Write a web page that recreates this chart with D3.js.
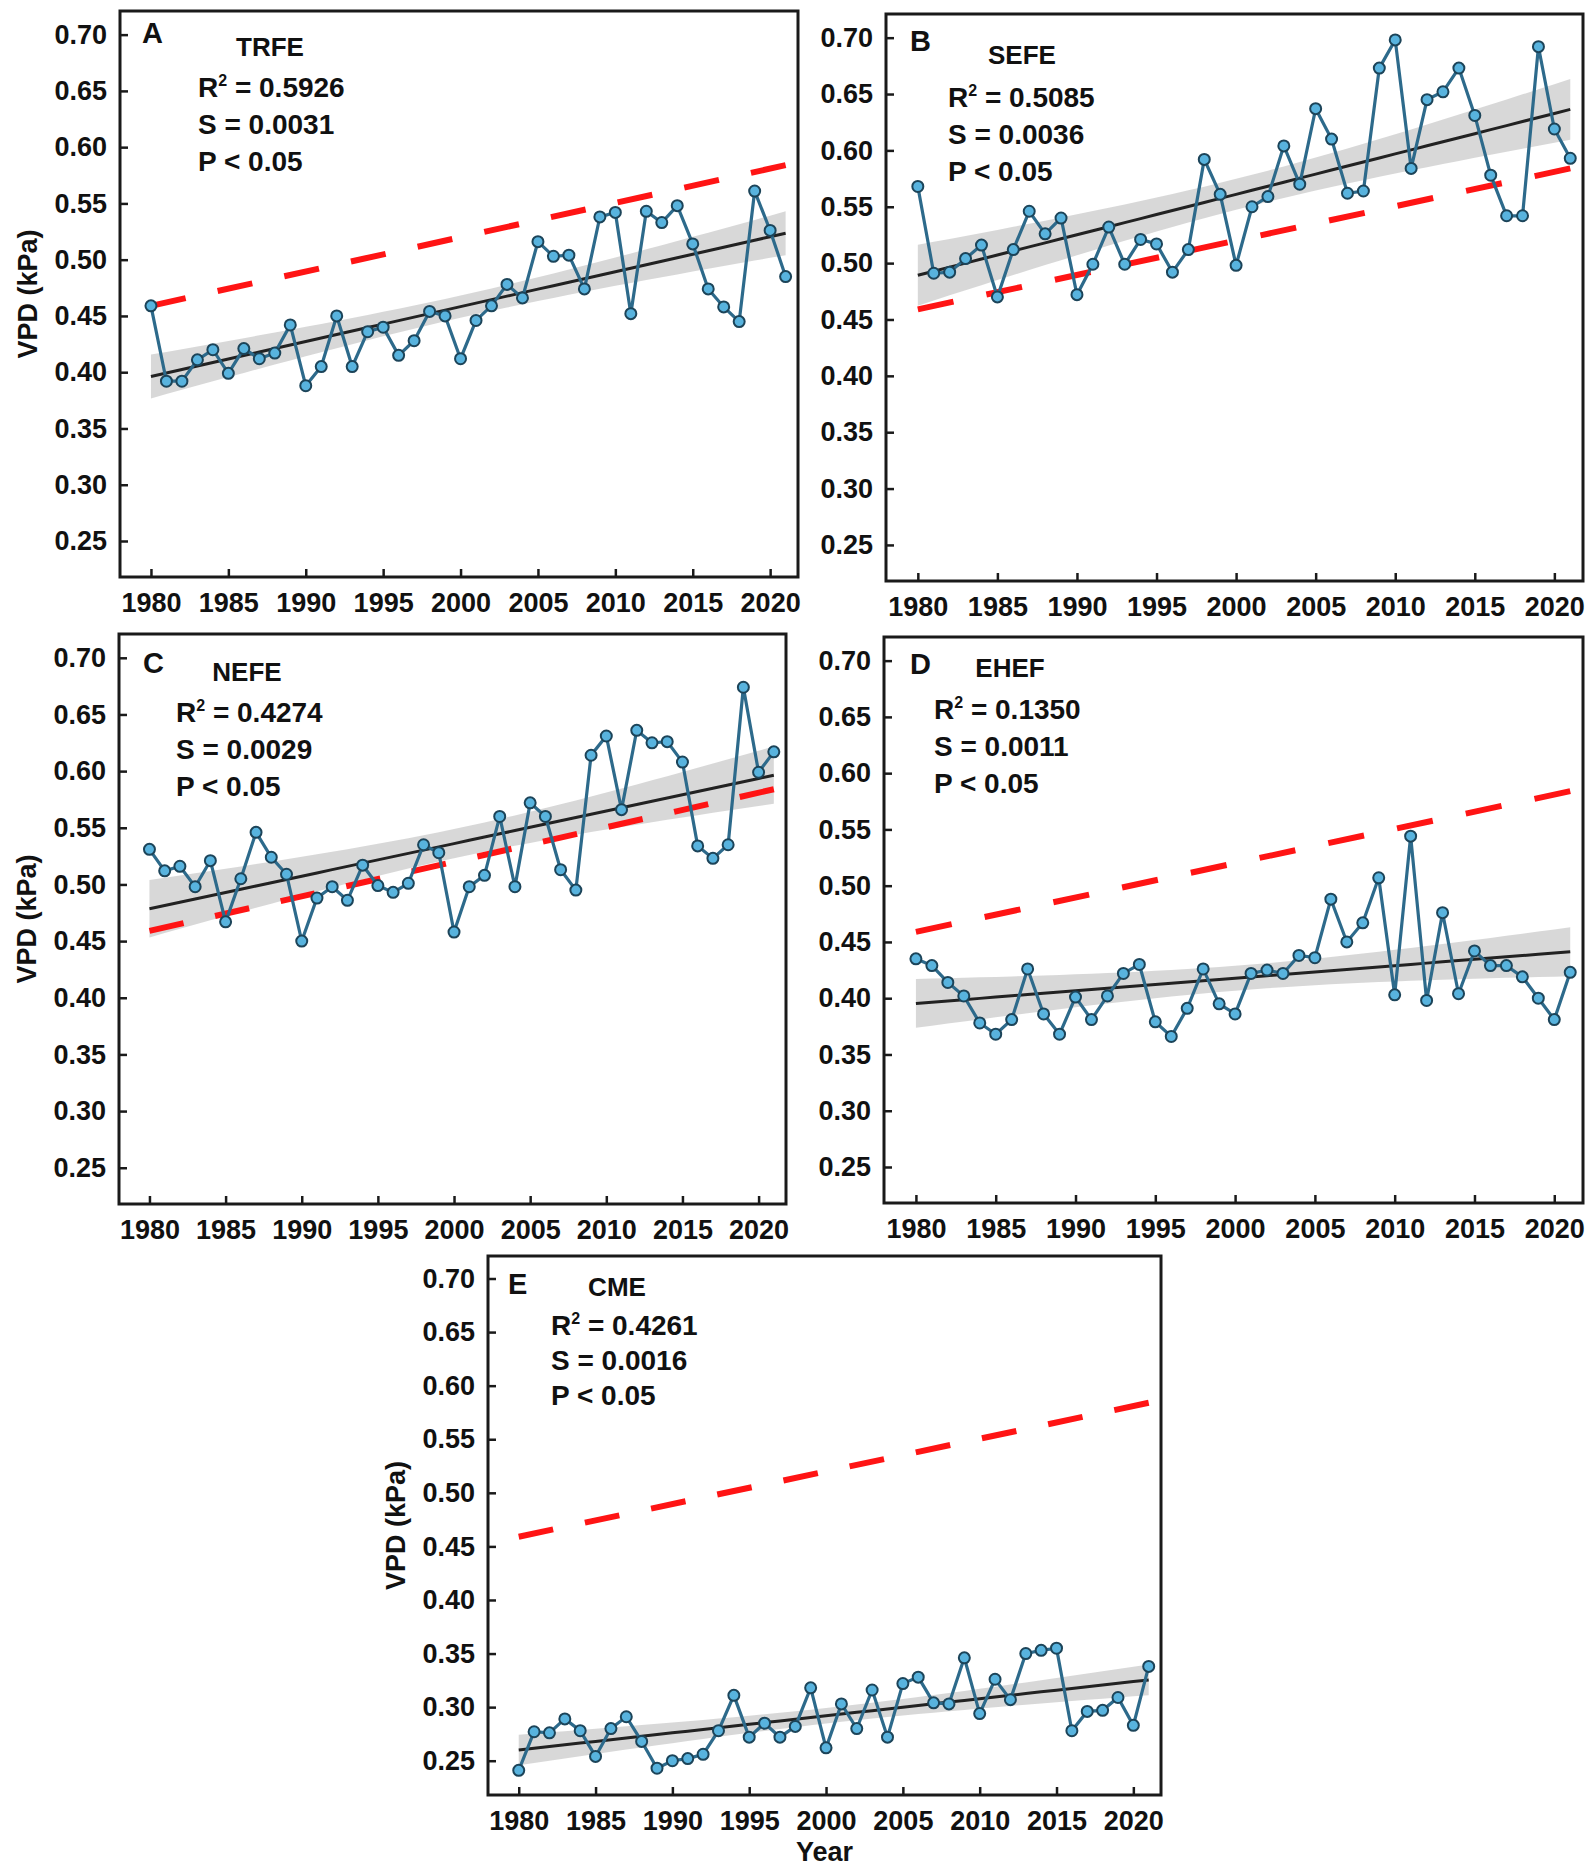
<!DOCTYPE html>
<html>
<head>
<meta charset="utf-8">
<script src="https://cdn.jsdelivr.net/npm/d3@7"></script>
<style>
  body { margin: 0; background: #fff; }
  text { font-family: "Liberation Sans", Arial, sans-serif; font-weight: bold; fill: #111; }
</style>
</head>
<body>
<div id="app"></div>
<script>
// ---- data ----
const years = d3.range(1980, 2022)
const regions = ['TRFE', 'SEFE', 'NEFE', 'EHEF', 'CME']
const letters = ['A', 'B', 'C', 'D', 'E']
const r2Labels = ['0.5926', '0.5085', '0.4274', '0.1350', '0.4261']
const slopeLabels = ['0.0031', '0.0036', '0.0029', '0.0011', '0.0016']
const pLabel = 'P < 0.05'
const yTicks = [0.25, 0.30, 0.35, 0.40, 0.45, 0.50, 0.55, 0.60, 0.65, 0.70]
const xTicks = [1980, 1985, 1990, 1995, 2000, 2005, 2010, 2015, 2020]
// red dashed reference trend, value at 1980 and at 2021
const refYears = [1980, 2021]
const refLine = [0.459, 0.584]

const trfe = [0.459, 0.392, 0.392, 0.411, 0.420, 0.399, 0.421, 0.412, 0.417, 0.442,
  0.388, 0.405, 0.450, 0.405, 0.436, 0.440, 0.415, 0.428, 0.454, 0.450,
  0.412, 0.446, 0.459, 0.478, 0.466, 0.516, 0.503, 0.504, 0.474, 0.538,
  0.542, 0.452, 0.543, 0.533, 0.548, 0.514, 0.474, 0.458, 0.445, 0.561,
  0.526, 0.485]
const sefe = [0.568, 0.491, 0.492, 0.504, 0.516, 0.470, 0.512, 0.546, 0.526, 0.540,
  0.472, 0.499, 0.532, 0.499, 0.521, 0.517, 0.492, 0.512, 0.592, 0.561,
  0.498, 0.550, 0.559, 0.604, 0.570, 0.637, 0.610, 0.562, 0.564, 0.673,
  0.698, 0.584, 0.645, 0.652, 0.673, 0.631, 0.578, 0.542, 0.542, 0.692,
  0.619, 0.593]
const nefe = [0.531, 0.512, 0.516, 0.498, 0.521, 0.467, 0.505, 0.546, 0.524, 0.509,
  0.450, 0.488, 0.498, 0.486, 0.517, 0.499, 0.493, 0.501, 0.535, 0.528,
  0.458, 0.498, 0.508, 0.560, 0.498, 0.572, 0.560, 0.513, 0.495, 0.614,
  0.631, 0.566, 0.636, 0.625, 0.626, 0.608, 0.534, 0.523, 0.535, 0.674,
  0.599, 0.617]
const ehef = [0.435, 0.429, 0.414, 0.402, 0.378, 0.368, 0.381, 0.426, 0.386, 0.368,
  0.401, 0.381, 0.402, 0.422, 0.430, 0.379, 0.366, 0.391, 0.426, 0.395,
  0.386, 0.422, 0.425, 0.422, 0.438, 0.436, 0.488, 0.450, 0.467, 0.507,
  0.403, 0.544, 0.398, 0.476, 0.404, 0.442, 0.429, 0.429, 0.419, 0.400,
  0.381, 0.423]
const cme = [0.241, 0.277, 0.276, 0.289, 0.278, 0.254, 0.280, 0.291, 0.268, 0.243,
  0.250, 0.252, 0.256, 0.278, 0.311, 0.272, 0.285, 0.272, 0.282, 0.318,
  0.262, 0.303, 0.280, 0.316, 0.272, 0.322, 0.328, 0.304, 0.303, 0.346,
  0.294, 0.326, 0.307, 0.350, 0.353, 0.355, 0.278, 0.296, 0.297, 0.309,
  0.283, 0.338]
const series = [trfe, sefe, nefe, ehef, cme]

// ---- layout ----
const W = 1595, H = 1870
const frames = [
  { l: 120, r: 798, t: 11, b: 577 },
  { l: 886, r: 1583, t: 14, b: 581 },
  { l: 119, r: 786, t: 634, b: 1204 },
  { l: 884, r: 1583, t: 637, b: 1203 },
  { l: 488, r: 1161, t: 1256, b: 1795 }
]
// label offsets from frame corner: letter, title, stats block
const notes = [
  { lx: 22, ly: 32, tx: 150, ty: 45, sx: 78, sy: 86, step: 37 },
  { lx: 24, ly: 37, tx: 136, ty: 50, sx: 62, sy: 93, step: 37 },
  { lx: 24, ly: 39, tx: 128, ty: 47, sx: 57, sy: 88, step: 37 },
  { lx: 26, ly: 37, tx: 126, ty: 40, sx: 50, sy: 82, step: 37 },
  { lx: 20, ly: 38, tx: 129, ty: 40, sx: 63, sy: 79, step: 35 }
]
const showYTitle = [true, false, true, false, true]
const nDashes = 10

const colors = {
  line: '#2d6a8b',
  dotFill: '#58b3de',
  dotStroke: '#1c4459',
  trend: '#222',
  band: '#cbcbcb',
  ref: '#ff1414',
  frame: '#1a1a1a'
}

const svg = d3.select('#app').append('svg')
  .attr('width', W).attr('height', H)

// least squares fit + 95% confidence band
function fitLine(xs, ys) {
  const n = xs.length
  const mx = d3.mean(xs), my = d3.mean(ys)
  const sxx = d3.sum(xs, x => (x - mx) ** 2)
  const sxy = d3.sum(xs, (x, i) => (x - mx) * (ys[i] - my))
  const slope = sxy / sxx
  const icpt = my - slope * mx
  const sse = d3.sum(xs, (x, i) => (ys[i] - (icpt + slope * x)) ** 2)
  const s = Math.sqrt(sse / (n - 2))
  const t = 2.021
  return xs.map(x => {
    const yh = icpt + slope * x
    const half = t * s * Math.sqrt(1 / n + (x - mx) ** 2 / sxx)
    return { x, y: yh, lo: yh - half, hi: yh + half }
  })
}

series.forEach((vals, k) => {
  const f = frames[k], nt = notes[k]
  const x = d3.scaleLinear().domain([1978, 2021.8]).range([f.l, f.r])
  const y = d3.scaleLinear().domain([0.218, 0.721]).range([f.b, f.t])
  const g = svg.append('g')
  const pts = years.map((yr, i) => ({ yr, v: vals[i] }))
  const fit = fitLine(years, vals)

  // confidence band
  g.append('path')
    .datum(fit)
    .attr('d', d3.area().x(d => x(d.x)).y0(d => y(d.lo)).y1(d => y(d.hi)))
    .attr('fill', colors.band)
    .attr('opacity', 0.75)

  // red dashed reference line, dashes fitted so both ends are solid
  const ref = g.append('path')
    .datum(refYears.map((yr, i) => [yr, refLine[i]]))
    .attr('d', d3.line().x(d => x(d[0])).y(d => y(d[1])))
    .attr('stroke', colors.ref)
    .attr('stroke-width', 6)
    .attr('fill', 'none')
  const len = ref.node().getTotalLength()
  const period = len / (nDashes - 1 + 0.52)
  ref.attr('stroke-dasharray', `${period * 0.52},${period * 0.48}`)

  // fitted trend
  g.append('path')
    .datum(fit)
    .attr('d', d3.line().x(d => x(d.x)).y(d => y(d.y)))
    .attr('stroke', colors.trend)
    .attr('stroke-width', 3)
    .attr('fill', 'none')

  // series
  g.append('path')
    .datum(pts)
    .attr('d', d3.line().x(d => x(d.yr)).y(d => y(d.v)))
    .attr('stroke', colors.line)
    .attr('stroke-width', 3.2)
    .attr('fill', 'none')

  g.selectAll('circle')
    .data(pts)
    .join('circle')
    .attr('cx', d => x(d.yr))
    .attr('cy', d => y(d.v))
    .attr('r', 5.5)
    .attr('fill', colors.dotFill)
    .attr('stroke', colors.dotStroke)
    .attr('stroke-width', 2)

  // axes (ticks point inward)
  const yAxis = g.append('g')
    .attr('transform', `translate(${f.l},0)`)
    .call(d3.axisLeft(y).tickValues(yTicks).tickFormat(d3.format('.2f'))
      .tickSizeInner(-8).tickSizeOuter(0).tickPadding(13))
  const xAxis = g.append('g')
    .attr('transform', `translate(0,${f.b})`)
    .call(d3.axisBottom(x).tickValues(xTicks).tickFormat(d3.format('d'))
      .tickSizeInner(-8).tickSizeOuter(0).tickPadding(16))
  ;[yAxis, xAxis].forEach(ax => {
    ax.select('.domain').remove()
    ax.attr('font-size', null).attr('font-family', null)
    ax.selectAll('line').attr('stroke', colors.frame).attr('stroke-width', 2.5)
    ax.selectAll('text').style('font-size', '27px').attr('fill', '#111')
  })

  // frame
  g.append('rect')
    .attr('x', f.l).attr('y', f.t)
    .attr('width', f.r - f.l).attr('height', f.b - f.t)
    .attr('fill', 'none')
    .attr('stroke', colors.frame)
    .attr('stroke-width', 3)

  // panel letter & region name
  g.append('text')
    .attr('x', f.l + nt.lx).attr('y', f.t + nt.ly)
    .style('font-size', '29px')
    .text(letters[k])
  g.append('text')
    .attr('x', f.l + nt.tx).attr('y', f.t + nt.ty)
    .attr('text-anchor', 'middle')
    .style('font-size', '26px')
    .text(regions[k])

  // stats block
  const r2 = g.append('text')
    .attr('x', f.l + nt.sx).attr('y', f.t + nt.sy)
    .style('font-size', '28px')
  r2.append('tspan').text('R')
  r2.append('tspan').attr('dy', -11).style('font-size', '16px').text('2')
  r2.append('tspan').attr('dy', 11).text(' = ' + r2Labels[k])
  g.append('text')
    .attr('x', f.l + nt.sx).attr('y', f.t + nt.sy + nt.step)
    .style('font-size', '28px')
    .text('S = ' + slopeLabels[k])
  g.append('text')
    .attr('x', f.l + nt.sx).attr('y', f.t + nt.sy + 2 * nt.step)
    .style('font-size', '28px')
    .text(pLabel)

  if (showYTitle[k]) {
    g.append('text')
      .attr('transform', `translate(${f.l - 92},${(f.t + f.b) / 2}) rotate(-90)`)
      .attr('text-anchor', 'middle')
      .attr('dy', '0.35em')
      .style('font-size', '27px')
      .text('VPD (kPa)')
  }
  if (k === 4) {
    g.append('text')
      .attr('x', (f.l + f.r) / 2).attr('y', f.b + 66)
      .attr('text-anchor', 'middle')
      .style('font-size', '27px')
      .text('Year')
  }
})
</script>
</body>
</html>
